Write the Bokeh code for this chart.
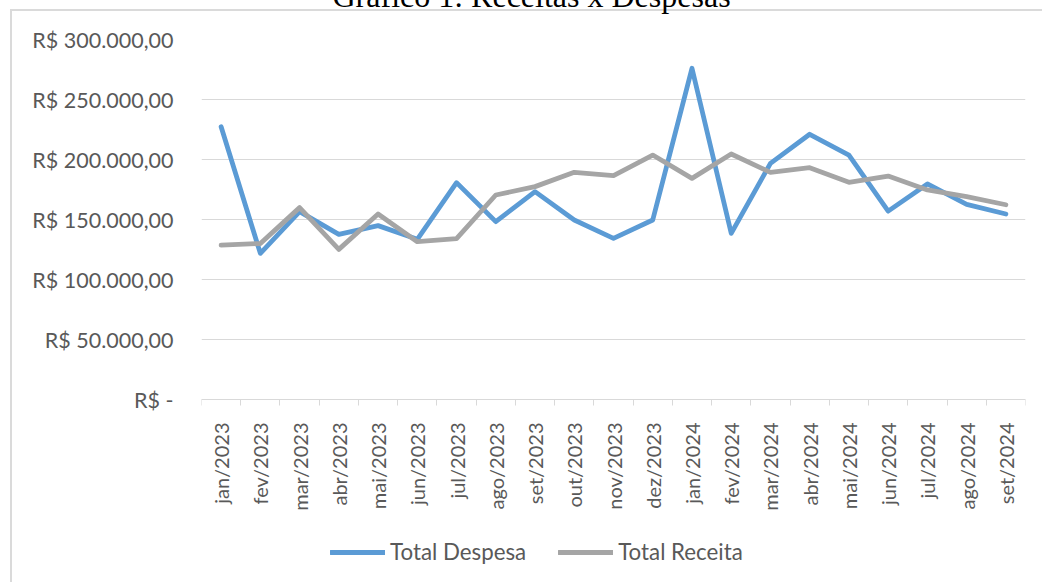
import math
from bokeh.plotting import figure
from bokeh.models import (FixedTicker, Legend, LegendItem,
                          ColumnDataSource, Range1d)
from bokeh.embed import file_html
from bokeh.resources import INLINE

months = ["jan/2023", "fev/2023", "mar/2023", "abr/2023", "mai/2023", "jun/2023",
          "jul/2023", "ago/2023", "set/2023", "out/2023", "nov/2023", "dez/2023",
          "jan/2024", "fev/2024", "mar/2024", "abr/2024", "mai/2024", "jun/2024",
          "jul/2024", "ago/2024", "set/2024"]
despesa = [227300, 121800, 156500, 137600, 144900, 133500, 180700, 148200, 173200,
           149600, 134300, 149600, 276000, 138500, 196800, 221000, 203700, 157000,
           179600, 162600, 154600]
receita = [128700, 130000, 159900, 125100, 154600, 131500, 134000, 170400, 177400,
           189300, 186500, 203700, 184300, 204600, 189300, 193200, 181000, 186200,
           174600, 169000, 162300]
y_ticks = [0, 50000, 100000, 150000, 200000, 250000, 300000]
y_tick_labels = ["R$ -", "R$ 50.000,00", "R$ 100.000,00", "R$ 150.000,00",
                 "R$ 200.000,00", "R$ 250.000,00", "R$ 300.000,00"]
series_names = ["Total Despesa", "Total Receita"]
title_text = "Gráfico 1: Receitas x Despesas"

x = [i + 0.5 for i in range(len(months))]
src = ColumnDataSource(dict(x=x, despesa=despesa, receita=receita))

TXT = "#595959"
GRID = "#d9d9d9"
FONT = "Lato"
SHIFT = 60  # canvas starts above the window so that the title is cut like the reference

# the plot frame runs down to the bottom of the window; the value axis stops at 0
# and the category axis is pinned at 0, leaving room for labels and legend below it
p = figure(frame_width=824, frame_height=543, output_backend="svg",
           toolbar_location=None, title=title_text,
           x_range=Range1d(0, len(months)), y_range=Range1d(-152500, 300000),
           min_border_left=201, min_border_right=17, min_border_top=39 + SHIFT,
           min_border_bottom=0)
p.margin = (-SHIFT, 0, 0, 0)
p.outline_line_color = None
p.background_fill_color = "white"
p.border_fill_color = None
# chart-area border (left and top edges) drawn behind the transparent canvas border
p.styles = {
    "background": (f"linear-gradient(#dadada,#dadada) 10px {9 + SHIFT}px / 2px 100% no-repeat, "
                   f"linear-gradient(#dadada,#dadada) 10px {9 + SHIFT}px / 100% 2px no-repeat, "
                   "#ffffff")
}

# title
p.title.text_font = "Liberation Serif"
p.title.text_font_size = "32px"
p.title.text_font_style = "normal"
p.title.text_color = "black"
p.title.align = "left"
p.title.offset = 131
p.title.vertical_align = "bottom"
p.title.standoff = 52

# y axis
p.yaxis.ticker = FixedTicker(ticks=y_ticks)
p.yaxis.major_label_overrides = dict(zip(y_ticks, y_tick_labels))
p.yaxis.axis_line_color = None
p.yaxis.major_tick_line_color = None
p.yaxis.minor_tick_line_color = None
p.yaxis.major_tick_out = 0
p.yaxis.major_label_standoff = 28
p.yaxis.major_label_text_font = FONT
p.yaxis.major_label_text_font_size = "21.5px"
p.yaxis.major_label_text_color = TXT

# x axis (pinned at value 0)
p.xaxis.fixed_location = 0
p.xaxis.ticker = FixedTicker(ticks=x, minor_ticks=list(range(len(months) + 1)))
p.xaxis.major_label_overrides = dict(zip(x, months))
p.xaxis.major_label_orientation = math.pi / 2
p.xaxis.major_tick_line_color = None
p.xaxis.major_tick_out = 0
p.xaxis.minor_tick_out = 6
p.xaxis.minor_tick_in = 0
p.xaxis.minor_tick_line_color = GRID
p.xaxis.axis_line_color = GRID
p.xaxis.major_label_standoff = 17
p.xaxis.major_label_text_font = FONT
p.xaxis.major_label_text_font_size = "20px"
p.xaxis.major_label_text_color = TXT

p.xgrid.visible = False
p.ygrid.ticker = FixedTicker(ticks=y_ticks)
p.ygrid.grid_line_color = GRID
p.ygrid.grid_line_width = 1

r1 = p.line("x", "despesa", source=src, line_color="#5B9BD5", line_width=4.8,
            line_join="round", line_cap="round")
r2 = p.line("x", "receita", source=src, line_color="#A5A5A5", line_width=4.8,
            line_join="round", line_cap="round")

legend = Legend(items=[LegendItem(label=series_names[0], renderers=[r1]),
                       LegendItem(label=series_names[1], renderers=[r2])],
                orientation="horizontal", location=(129, 17),
                glyph_width=55, glyph_height=20, label_standoff=5, spacing=32,
                padding=0, margin=0, border_line_color=None,
                background_fill_alpha=0, label_text_font=FONT,
                label_text_font_size="22.3px", label_text_color=TXT)
p.add_layout(legend, "center")

open("out.html", "w").write(file_html(p, INLINE))
